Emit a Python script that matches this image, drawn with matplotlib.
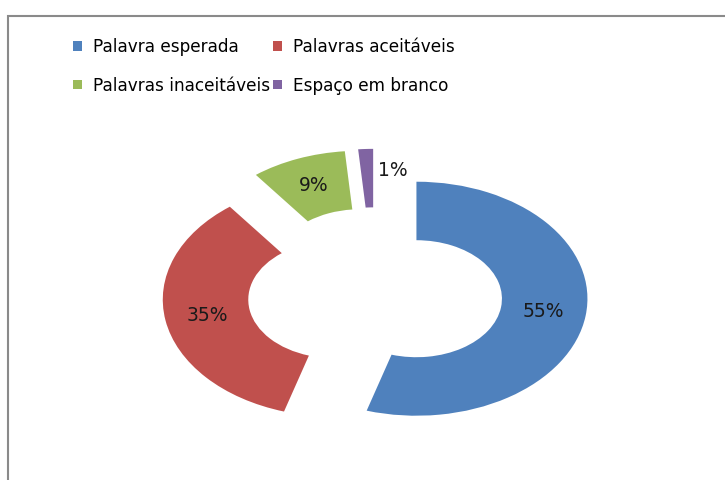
import matplotlib
matplotlib.use("Agg")
import matplotlib.pyplot as plt
from matplotlib.patches import Rectangle

matplotlib.rcParams['font.family'] = 'DejaVu Sans'

# ── data ───────────────────────────────────────────────
categories = ["Palavra esperada", "Palavras aceitáveis",
              "Palavras inaceitáveis", "Espaço em branco"]
values = [54.7, 34.9, 9.0, 1.4]
colors = ["#4F81BD", "#C0504D", "#9BBB59", "#8064A2"]

W, H = 725, 480
fig = plt.figure(figsize=(W / 100, H / 100), dpi=100)
ax = fig.add_axes([0, 0, 1, 1])

wedges, texts, autotexts = ax.pie(
    values, colors=colors, startangle=90, counterclock=False,
    explode=[0.245] * len(values), radius=1.0,
    wedgeprops=dict(width=0.5, linewidth=0),
    autopct=lambda p: f"{p:.0f}%", pctdistance=0.75,
    textprops=dict(fontsize=13.5, color="#1a1a1a"))

# ellipse look: different px per data unit in x and y
cx, cy = 375, 480 - 294.5      # centre, px from bottom-left
sx, sy = 171, 117              # px per unit radius
ax.set_aspect('auto')
ax.set_xlim(-cx / sx, (W - cx) / sx)
ax.set_ylim(-cy / sy, (H - cy) / sy)
ax.axis('off')

# tiny slice: label sits beside it
x, y = autotexts[3].get_position()
autotexts[3].set_position((x + 0.15, y + 0.07))

# frame (only left/top edges visible in the crop)
fig.patches.append(Rectangle((8 / W, -0.2), 1.2, (H - 16) / H + 0.2,
                             transform=fig.transFigure, fill=False,
                             edgecolor="#8a8a8a", linewidth=1.5))

# legend filled row by row
order = [0, 2, 1, 3]
fig.legend([wedges[i] for i in order], [categories[i] for i in order],
           ncol=2, loc='upper left',
           bbox_to_anchor=(58 / W, 1 - 23 / H), frameon=False,
           fontsize=12.2, handlelength=0.5, handleheight=0.5,
           handletextpad=0.65, columnspacing=0.2, labelspacing=1.2)

fig.savefig("out.png", dpi=100)
